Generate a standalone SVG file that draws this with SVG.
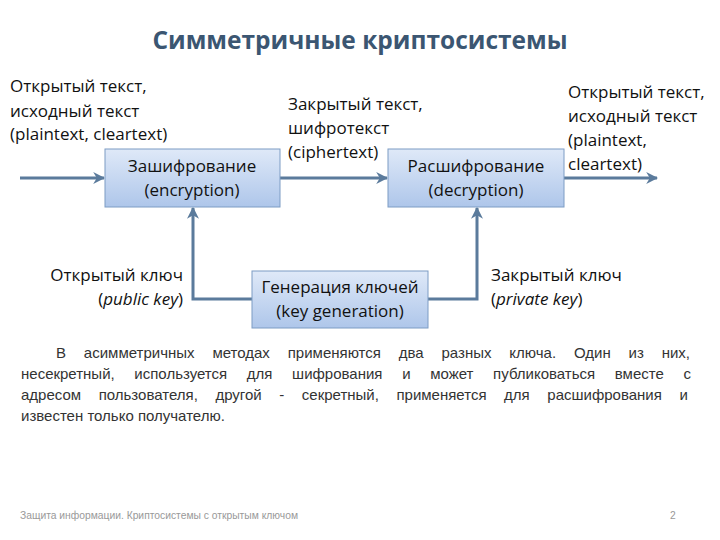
<svg xmlns="http://www.w3.org/2000/svg" width="720" height="540" viewBox="0 0 720 540">
<style>
.t{font-family:"Open Sans","Liberation Sans",sans-serif;fill:#111;font-size:17px}
.c{text-anchor:middle}
.r{text-anchor:end}
.title{font-family:"Open Sans","Liberation Sans",sans-serif;font-weight:bold;font-size:24.5px;fill:#3b5672;text-anchor:middle}
.p{font-family:"Liberation Sans","Open Sans",sans-serif;font-size:15px;fill:#333}
.f{font-family:"Liberation Sans",sans-serif;font-size:10.3px;fill:#999}
.box{fill:url(#g);stroke:#7d9cc4;stroke-width:1}
.ln{fill:none;stroke:#5b7b9c;stroke-width:3;marker-end:url(#a)}
</style>
<defs>
<linearGradient id="g" x1="0" y1="0" x2="0" y2="1">
<stop offset="0" stop-color="#dfe9f8"/>
<stop offset="1" stop-color="#aec6ea"/>
</linearGradient>
<marker id="a" viewBox="0 0 10 10" refX="9" refY="5" markerWidth="4" markerHeight="4" orient="auto" markerUnits="strokeWidth">
<path d="M0,0 L10,5 L0,10 L3,5 Z" fill="#5b7b9c"/>
</marker>
</defs>
<rect width="720" height="540" fill="#fff"/>
<text class="title" x="360" y="49">Симметричные криптосистемы</text>

<g id="connectors">
<line class="ln" x1="20" y1="178" x2="104" y2="178"/>
<line class="ln" x1="280" y1="178" x2="387" y2="178"/>
<line class="ln" x1="564" y1="178" x2="657" y2="178"/>
<polyline class="ln" points="252,299 193,299 193,208"/>
<polyline class="ln" points="428,299 477,299 477,208"/>
</g>

<g id="enc">
<rect class="box" x="105" y="149" width="175" height="58"/>
<text class="t c" x="192" y="172">Зашифрование</text>
<text class="t c" x="192" y="196">(encryption)</text>
</g>
<g id="dec">
<rect class="box" x="388" y="149" width="176" height="58"/>
<text class="t c" x="476" y="172">Расшифрование</text>
<text class="t c" x="476" y="196">(decryption)</text>
</g>
<g id="keygen">
<rect class="box" x="252" y="271" width="176" height="57"/>
<text class="t c" x="340" y="293">Генерация ключей</text>
<text class="t c" x="340" y="317">(key generation)</text>
</g>

<g id="labels">
<text class="t" x="10" y="92">Открытый текст,</text>
<text class="t" x="10" y="117">исходный текст</text>
<text class="t" x="10" y="140">(plaintext, cleartext)</text>
<text class="t" x="288" y="110">Закрытый текст,</text>
<text class="t" x="288" y="134">шифротекст</text>
<text class="t" x="288" y="158">(ciphertext)</text>
<text class="t" x="568" y="98">Открытый текст,</text>
<text class="t" x="568" y="122">исходный текст</text>
<text class="t" x="568" y="146">(plaintext,</text>
<text class="t" x="568" y="170">cleartext)</text>
<text class="t r" x="183" y="281">Открытый ключ</text>
<text class="t r" x="183" y="305">(<tspan font-style="italic">public key</tspan>)</text>
<text class="t" x="491" y="281">Закрытый ключ</text>
<text class="t" x="491" y="305">(<tspan font-style="italic">private key</tspan>)</text>
</g>

<g id="para">
<text class="p" x="56" y="358" word-spacing="13.7">В асимметричных методах применяются два разных ключа. Один из них,</text>
<text class="p" x="21" y="379" word-spacing="15.5">несекретный, используется для шифрования и может публиковаться вместе с</text>
<text class="p" x="21" y="400" word-spacing="13.4">адресом пользователя, другой - секретный, применяется для расшифрования и</text>
<text class="p" x="21" y="421">известен только получателю.</text>
</g>

<text class="f" x="20" y="519">Защита информации. Криптосистемы с открытым ключом</text>
<text class="f" x="670" y="519">2</text>
</svg>
